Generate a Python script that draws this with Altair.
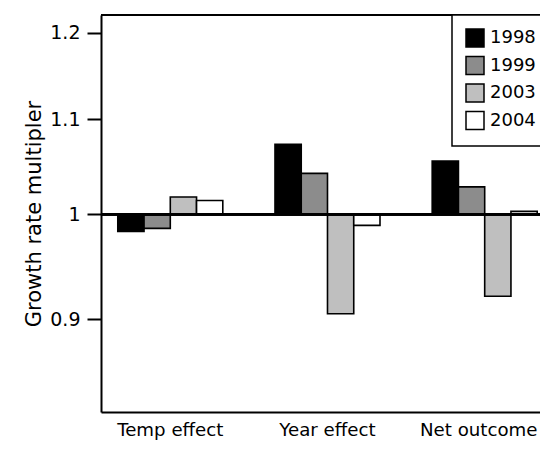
import altair as alt
import pandas as pd

categories = ["Temp effect", "Year effect", "Net outcome"]
years = ["1998", "1999", "2003", "2004"]
temp_effect = [0.983, 0.986, 1.0175, 1.014]
year_effect = [1.073, 1.042, 0.905, 0.989]
net_outcome = [1.055, 1.028, 0.921, 1.003]
colors = ["#000000", "#8c8c8c", "#bfbfbf", "#ffffff"]
y_ticks = [0.9, 1.0, 1.1, 1.2]
y_domain = [0.82, 1.2216]

rows = []
for cat, vals in zip(categories, [temp_effect, year_effect, net_outcome]):
    for yr, v in zip(years, vals):
        rows.append({"effect": cat, "year": yr, "value": v, "base": 1.0})
df = pd.DataFrame(rows)

FONT = "DejaVu Sans"
yscale = alt.Scale(type="log", domain=y_domain, nice=False, zero=False)

bars = alt.Chart(df).mark_bar(stroke="black", strokeWidth=1.6).encode(
    x=alt.X(
        "effect:N",
        sort=categories,
        scale=alt.Scale(paddingInner=0.332, paddingOuter=0.0623, align=0.857),
        axis=alt.Axis(
            title=None, ticks=False, tickSize=0, domain=True,
            domainColor="black", domainWidth=2, labelAngle=0,
            labelFontSize=18.2, labelFont=FONT, labelColor="black",
            labelBaseline="alphabetic", labelPadding=23.5,
            labelOffset={"condition": {"test": "datum.label == 'Net outcome'",
                                       "value": -6}, "value": 0},
        ),
    ),
    xOffset=alt.XOffset("year:N", sort=years,
                        scale=alt.Scale(paddingInner=0, paddingOuter=0)),
    y=alt.Y(
        "value:Q",
        scale=yscale,
        axis=alt.Axis(
            title="Growth rate multipler", values=y_ticks, format=".1~f",
            grid=False, domain=True, domainColor="black", domainWidth=2,
            tickSize=14, tickWidth=2,
            tickColor="black", labelPadding=7, labelFontSize=19,
            labelFont=FONT, labelColor="black", titleFont=FONT,
            titleFontSize=21, titleFontWeight="normal", titleColor="black",
            titlePadding=5,
        ),
    ),
    y2="base:Q",
    fill=alt.Fill(
        "year:N",
        sort=years,
        scale=alt.Scale(domain=years, range=colors),
        legend=alt.Legend(
            title=None, orient="none", legendX=351, legendY=0,
            symbolType="square", symbolSize=324, symbolStrokeColor="black",
            symbolStrokeWidth=1.5, labelFontSize=18, labelFont=FONT,
            labelColor="black", labelOffset=5, rowPadding=3.5, padding=13,
            strokeColor="black", fillColor="white",
            labelExpr="datum.label + '   '",
        ),
    ),
)

zero_rule = alt.Chart(df).mark_rule(color="black", strokeWidth=2).encode(
    y=alt.datum(1.0, scale=yscale)
)
top_rule = alt.Chart(df).mark_rule(color="black", strokeWidth=2).encode(
    y=alt.datum(y_domain[1], scale=yscale)
)

chart = alt.layer(bars, zero_rule, top_rule).properties(
    width=439,
    height=397,
    autosize="none",
    padding={"left": 93, "top": 7, "right": 0, "bottom": 28},
).configure_view(
    strokeWidth=0
).configure_legend(
    strokeWidth=1.5
)

chart.save("out.html", embed_options={"renderer": "svg", "actions": False})
